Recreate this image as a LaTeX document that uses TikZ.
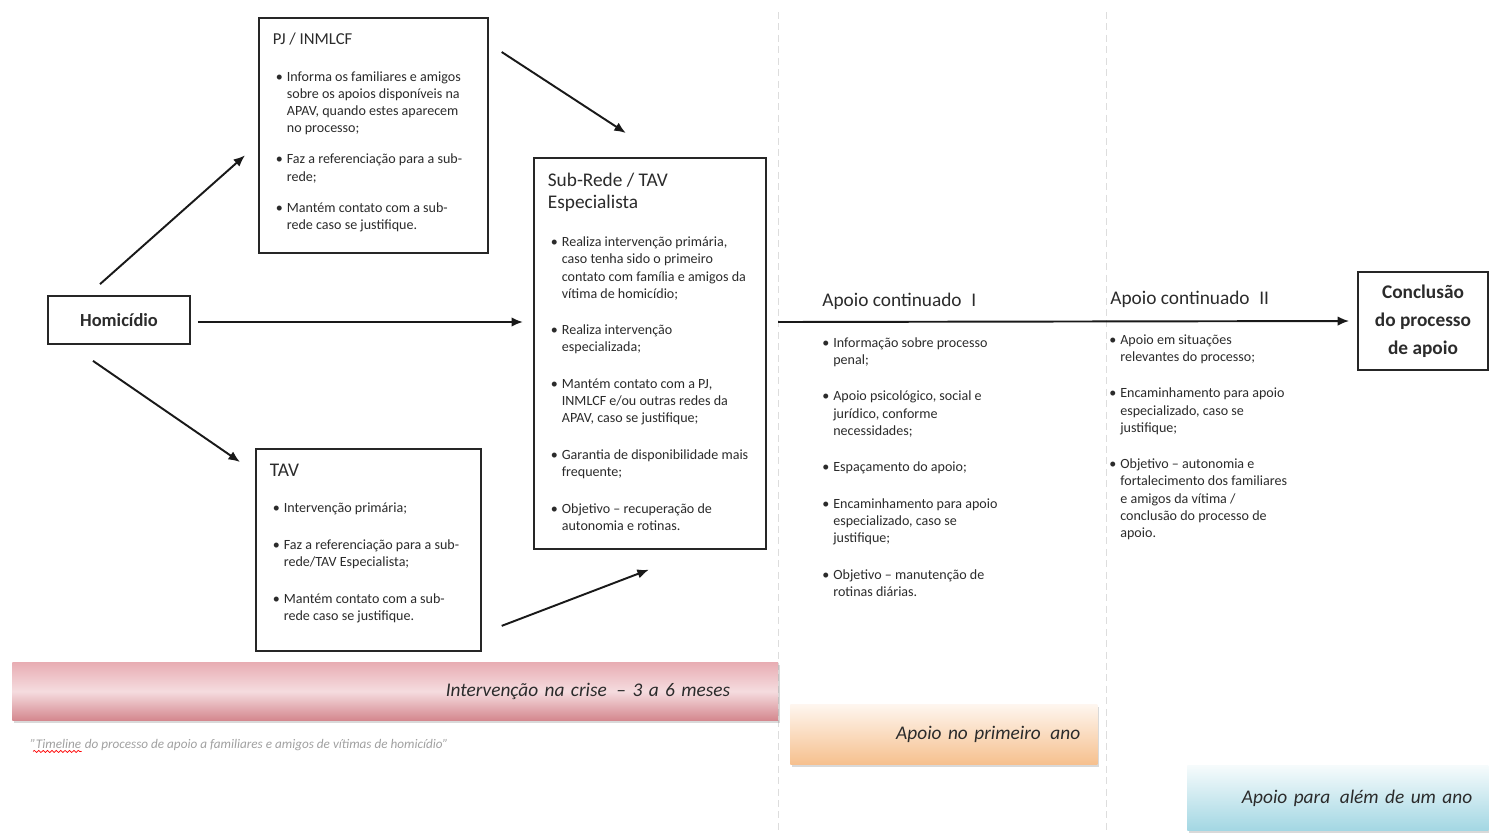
\documentclass[tikz,border=0pt]{standalone}
\usepackage{fontspec}
\setmainfont{Carlito}
\usetikzlibrary{arrows.meta,positioning,calc,shadows,decorations.pathmorphing}

\definecolor{rosaclaro}{HTML}{F5DCDF}
\definecolor{rosa}{HTML}{E8ADB3}
\definecolor{rosaescuro}{HTML}{D4878E}
\definecolor{laranjaclaro}{HTML}{FEF6EF}
\definecolor{laranja}{HTML}{F6C08E}
\definecolor{azulclaro}{HTML}{F6FBFC}
\definecolor{azul}{HTML}{A3D7E3}
\definecolor{escrita}{HTML}{2B2B2B}
\definecolor{legenda}{HTML}{A0A0A0}
\definecolor{divisoria}{HTML}{DDDDDD}

\newlength{\espaco}
\setlength{\espaco}{11pt}
\newcommand{\titulo}{\fontsize{11}{12.5}\selectfont}
\newcommand{\miudo}{\fontsize{8}{9.8}\selectfont}
\newcommand{\ponto}[1]{\hangindent=0.28cm\hangafter=1\noindent\hspace{0.06cm}\makebox[0.22cm][l]{\textbullet}#1\par\vspace{\espaco}}
\newcommand{\caixa}[3]{\parbox[c][#2][t]{#1}{\raggedright\color{escrita}#3}}
\newcommand{\coluna}[2]{\parbox[t]{#1}{\raggedright\color{escrita}#2}}

\begin{document}
\begin{tikzpicture}[x=0.02cm, y=-0.02cm, >={Latex[length=2.3mm,width=1.9mm]}]
  \useasboundingbox (0,0) rectangle (1489,833);
  % divisorias entre fases
  \draw[divisoria, line width=0.45pt, dash pattern=on 4pt off 2.5pt] (778,12) -- (778,833);
  \draw[divisoria, line width=0.45pt, dash pattern=on 4pt off 2.5pt] (1106,12) -- (1106,833);

  % faixas de tempo
  \begin{scope}[every node/.style={anchor=north west, inner ysep=0pt, align=right, text=escrita,
      font=\fontsize{11}{13}\selectfont\itshape,
      drop shadow={shadow xshift=0.8pt, shadow yshift=-1.4pt, opacity=0.3}}]
    \node (crise) [top color=rosa, bottom color=rosaescuro, middle color=rosaclaro,
      minimum height=1.16cm, inner xsep=0.96cm, text width=13.4cm] at (12,662) {Intervenção na crise\enspace– 3 a 6 meses};
    \node (ano1) [top color=laranjaclaro, bottom color=laranja,
      minimum height=1.2cm, inner xsep=0.34cm, text width=5.46cm] at (790,704) {Apoio no primeiro\enspace ano};
    \node (ano2) [top color=azulclaro, bottom color=azul,
      minimum height=1.3cm, inner xsep=0.32cm, text width=5.38cm] at (1187,765) {Apoio para\enspace além de um ano};
  \end{scope}

  % legenda
  \node (tl) [anchor=base west, inner sep=0pt, text=legenda, font=\fontsize{7.5}{9}\selectfont\itshape] at (30,748) {"Timeline};
  \node (leg) [anchor=base west, inner sep=0pt, text=legenda, font=\fontsize{7.5}{9}\selectfont\itshape] at (tl.base east) {\ do processo de apoio a familiares e amigos de vítimas de homicídio"};
  \draw[red, line width=0.4pt, decorate, decoration={snake, amplitude=0.6pt, segment length=2.5pt}]
    ($(tl.south west)+(3,3)$) -- ($(tl.south east)+(0,3)$);

  % caixas
  \begin{scope}[every node/.style={draw=black!85, line width=1pt, anchor=north west, fill=white,
      inner xsep=0.28cm, inner ysep=0.3cm}]
    \node (pj) at (258,17) {\caixa{4.02cm}{4.1cm}{\setlength{\espaco}{8pt}{\fontsize{9.5}{11}\selectfont PJ / INMLCF\par}\vspace{11pt}\miudo
      \ponto{Informa os familiares e amigos\newline sobre os apoios disponíveis na\newline APAV, quando estes aparecem\newline no processo;}
      \ponto{Faz a referenciação para a sub-\newline rede;}
      \ponto{Mantém contato com a sub-\newline rede caso se justifique.}}};
    \node (sub) at (533,157) {\caixa{4.08cm}{7.22cm}{{\titulo Sub-Rede / TAV\newline Especialista\par}\vspace{12pt}\miudo
      \ponto{Realiza intervenção primária,\newline caso tenha sido o primeiro\newline contato com família e amigos da\newline vítima de homicídio;}
      \ponto{Realiza intervenção\newline especializada;}
      \ponto{Mantém contato com a PJ,\newline INMLCF e/ou outras redes da\newline APAV, caso se justifique;}
      \ponto{Garantia de disponibilidade mais\newline frequente;}
      \ponto{Objetivo – recuperação de\newline autonomia e rotinas.}}};
    \node (tav) at (255,448) {\caixa{3.94cm}{3.44cm}{{\titulo TAV\par}\vspace{11pt}\miudo
      \ponto{Intervenção primária;}
      \ponto{Faz a referenciação para a sub-\newline rede/TAV Especialista;}
      \ponto{Mantém contato com a sub-\newline rede caso se justifique.}}};
  \end{scope}

  \node (hom) [draw=black!85, line width=1pt, minimum width=2.84cm, minimum height=0.96cm, text=escrita,
    font=\fontsize{10.5}{12}\selectfont\bfseries] at (119,320) {Homicídio};
  \node (conc) [draw=black!85, line width=1pt, minimum width=2.6cm, minimum height=1.96cm, align=center, text=escrita,
    font=\fontsize{11}{16}\selectfont\bfseries] at (1423,321) {Conclusão\\do processo\\de apoio};

  % apoio continuado
  \node (ac1) [anchor=base west, inner sep=0pt, text=escrita, font=\titulo] at (822,306) {Apoio continuado\enspace I};
  \node (ac2) [anchor=base west, inner sep=0pt, text=escrita, font=\titulo] at (1110,304) {Apoio continuado\enspace II};
  \node (lista1) [anchor=north west, inner sep=0pt] at (819,337) {\coluna{4.2cm}{\miudo
      \ponto{Informação sobre processo\newline penal;}
      \ponto{Apoio psicológico, social e\newline jurídico, conforme\newline necessidades;}
      \ponto{Espaçamento do apoio;}
      \ponto{Encaminhamento para apoio\newline especializado, caso se\newline justifique;}
      \ponto{Objetivo – manutenção de\newline rotinas diárias.}}};
  \node (lista2) [anchor=north west, inner sep=0pt] at (1106,334) {\coluna{4.2cm}{\miudo
      \ponto{Apoio em situações\newline relevantes do processo;}
      \ponto{Encaminhamento para apoio\newline especializado, caso se\newline justifique;}
      \ponto{Objetivo – autonomia e\newline fortalecimento dos familiares\newline e amigos da vítima /\newline conclusão do processo de\newline apoio.}}};
  \coordinate (inicio) at (778,322);

  \begin{scope}[every edge/.style={draw=black!90, line width=1.1pt, ->}]
    \draw ($(hom.north)+(-19,-11)$) edge ($(pj.west)+(-13,20)$);
    \draw ($(pj.north east)+(13,35)$) edge ($(sub.north)+(-24,-24)$);
    \draw ($(hom.east)+(7,2)$) edge ($(sub.west |- hom.east)+(-10,2)$);
    \draw ($(hom.south)+(-26,16)$) edge ($(tav.north west)+(-15,14)$);
    \draw ($(tav.east)+(20,76)$) edge ($(sub.south)+(-1,20)$);
    \draw (inicio) edge [shorten >=0.16cm] (conc.west);
  \end{scope}
\end{tikzpicture}
\end{document}
